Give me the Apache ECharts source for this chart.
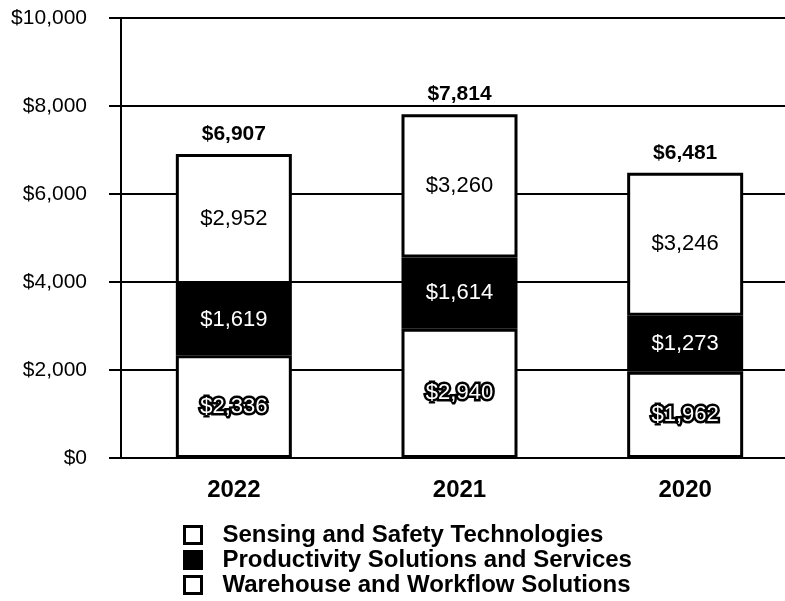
<!DOCTYPE html>
<html>
<head>
<meta charset="utf-8">
<script src="https://cdn.jsdelivr.net/npm/echarts@6/dist/echarts.min.js"></script>
<style>
  html, body { margin: 0; padding: 0; background: #fff; }
  #chart { width: 785px; height: 601px; }
</style>
</head>
<body>
<div id="chart"></div>
<script>
// Segment sales by year, in $ millions
const years = ['2022', '2021', '2020'];
const warehouseWorkflow = [2336, 2940, 1962];
const productivitySolutions = [1619, 1614, 1273];
const sensingSafety = [2952, 3260, 3246];
const yTicks = [0, 2000, 4000, 6000, 8000, 10000];

const seriesNames = {
  sensing: 'Sensing and Safety Technologies',
  productivity: 'Productivity Solutions and Services',
  warehouse: 'Warehouse and Workflow Solutions'
};

const totals = years.map((_, i) => warehouseWorkflow[i] + productivitySolutions[i] + sensingSafety[i]);

const FONT = '"Liberation Sans", Arial, sans-serif';
const money = v => '$' + Number(v).toLocaleString('en-US');

const chart = echarts.init(document.getElementById('chart'), null, { renderer: 'canvas' });

const barCommon = {
  type: 'bar',
  stack: 'total',
  barWidth: 116
};

chart.setOption({
  animation: false,
  backgroundColor: '#fff',
  // plot runs past the right edge of the canvas
  grid: { left: 121, top: 18, width: 677, height: 440, containLabel: false, outerBoundsMode: 'none' },
  xAxis: {
    type: 'category',
    data: years,
    axisLine: { show: true, lineStyle: { color: '#000', width: 2 } },
    axisTick: { show: false },
    axisLabel: { color: '#000', fontFamily: FONT, fontWeight: 'bold', fontSize: 24, margin: 20 }
  },
  yAxis: {
    type: 'value',
    min: yTicks[0],
    max: yTicks[yTicks.length - 1],
    interval: yTicks[1] - yTicks[0],
    axisLine: { show: true, lineStyle: { color: '#000', width: 2 } },
    axisTick: { show: true, length: 12, lineStyle: { color: '#000', width: 2 } },
    splitLine: { show: true, lineStyle: { color: '#000', width: 2 } },
    axisLabel: { color: '#000', fontFamily: FONT, fontSize: 21, margin: 34, formatter: money }
  },
  legend: {
    orient: 'vertical',
    left: 183,
    top: 523,
    padding: 0,
    height: 78,
    itemWidth: 17,
    itemHeight: 17,
    itemGap: 1,
    icon: 'rect',
    data: [seriesNames.sensing, seriesNames.productivity, seriesNames.warehouse],
    itemStyle: { borderColor: '#000', borderWidth: 3 },
    textStyle: { color: '#000', fontFamily: FONT, fontWeight: 'bold', fontSize: 24, padding: [0, 0, 0, 16] }
  },
  series: [
    Object.assign({}, barCommon, {
      name: seriesNames.warehouse,
      data: warehouseWorkflow,
      itemStyle: { color: '#fff', borderColor: '#000', borderWidth: 3 },
      label: {
        show: true, position: 'inside', formatter: p => money(p.value),
        color: '#fff', fontFamily: FONT, fontSize: 22,
        textBorderColor: '#000', textBorderWidth: 5
      }
    }),
    Object.assign({}, barCommon, {
      name: seriesNames.productivity,
      data: productivitySolutions,
      itemStyle: { color: '#000', borderColor: '#000', borderWidth: 3 },
      label: {
        show: true, position: 'inside', formatter: p => money(p.value),
        color: '#fff', fontFamily: FONT, fontSize: 22
      }
    }),
    Object.assign({}, barCommon, {
      name: seriesNames.sensing,
      data: sensingSafety,
      itemStyle: { color: '#fff', borderColor: '#000', borderWidth: 3 },
      label: {
        show: true, position: 'inside', formatter: p => money(p.value),
        color: '#000', fontFamily: FONT, fontSize: 22
      }
    }),
    {
      // year totals written above each stack
      type: 'scatter',
      name: 'total',
      data: totals,
      symbolSize: 0,
      silent: true,
      z: 5,
      itemStyle: { opacity: 1 },
      label: {
        show: true, position: 'top', distance: 9, formatter: p => money(p.value),
        color: '#000', fontFamily: FONT, fontWeight: 'bold', fontSize: 21
      }
    }
  ]
});
</script>
</body>
</html>
